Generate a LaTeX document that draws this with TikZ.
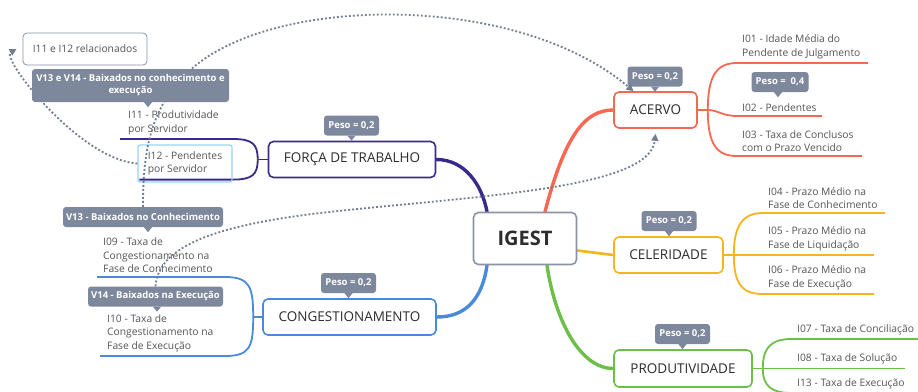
\documentclass[tikz,border=0pt]{standalone}
\usepackage{fontspec}
\setmainfont{Open Sans}
\usetikzlibrary{arrows.meta,backgrounds}

\definecolor{igestgray}{RGB}{138,148,166}
\definecolor{acervored}{RGB}{245,104,82}
\definecolor{celerorange}{RGB}{246,180,30}
\definecolor{prodgreen}{RGB}{108,192,74}
\definecolor{forcapurple}{RGB}{58,42,140}
\definecolor{congblue}{RGB}{74,138,218}
\definecolor{calloutgray}{RGB}{126,136,156}
\definecolor{relgray}{RGB}{115,125,146}
\definecolor{textdark}{RGB}{45,45,45}
\definecolor{leafgray}{RGB}{85,85,85}
\definecolor{selblue}{RGB}{150,212,245}

\tikzset{
  topic/.style={draw, line width=1.6pt, rounded corners=5pt, fill=white, text=textdark,
    font=\fontsize{13.5}{15}\selectfont, inner sep=0pt},
  peso/.style={fill=calloutgray, rounded corners=3pt, text=white,
    font=\fontsize{9.5}{12}\selectfont\bfseries, minimum width=55pt, minimum height=20pt, inner sep=0pt},
  leaf/.style={anchor=south west, align=left, inner xsep=5pt, inner ysep=4pt, text=leafgray,
    font=\fontsize{10.3}{13.5}\selectfont},
  branch/.style={line width=3.4pt, line cap=round},
  twig/.style={line width=1.8pt},
  rel/.style={relgray, line width=1.8pt, dash pattern=on 1.9pt off 2.1pt},
  relbox/.style={draw=igestgray, line width=0.8pt, rounded corners=4pt, text=leafgray,
    font=\fontsize{10.3}{12}\selectfont, minimum width=124pt, minimum height=32pt},
}

\begin{document}
\begin{tikzpicture}[x=1pt,y=-1pt]
\useasboundingbox (0,0) rectangle (918,391);

% main topics
\node[topic, draw=igestgray, minimum width=103pt, minimum height=52pt,
  font=\fontsize{20}{24}\selectfont\bfseries] (igest) at (525,238.5){IGEST};
\node[topic, draw=acervored, minimum width=83pt, minimum height=36pt] (acervo) at (655.5,110){ACERVO};
\node[topic, draw=celerorange, minimum width=109pt, minimum height=36pt] (celer) at (668.5,255){CELERIDADE};
\node[topic, draw=prodgreen, minimum width=138pt, minimum height=37pt] (prod) at (683,368.5){PRODUTIVIDADE};
\node[topic, draw=forcapurple, minimum width=167pt, minimum height=36pt] (forca) at (352,159.5){FORÇA DE TRABALHO};
\node[topic, draw=congblue, minimum width=173pt, minimum height=36pt] (cong) at (349.5,317){CONGESTIONAMENTO};

% weights
\node[peso] (pacervo) at (655,76.5){Peso = 0,2};
\node[peso, minimum width=57pt] (ppend) at (780,82){Peso = \ 0,4};
\node[peso] (pceler) at (669,221){Peso = 0,2};
\node[peso] (pprod) at (682.5,334){Peso = 0,2};
\node[peso] (pforca) at (351.5,125.5){Peso = 0,2};
\node[peso] (pcong) at (348.5,283){Peso = 0,2};

% junctions
\coordinate (ja) at ([xshift=10pt]acervo.east);
\coordinate (jc) at ([xshift=10pt]celer.east);
\coordinate (jp) at ([xshift=10pt]prod.east);
\coordinate (jf) at ([xshift=-10pt]forca.west);
\coordinate (jg) at ([xshift=-9pt]cong.west);

% indicators
\node[leaf] (i01) at (737,63){I01 - Idade Média do\\Pendente de Julgamento};
\node[leaf] (i02) at (737,116){I02 - Pendentes};
\node[leaf] (i03) at (737,156){I03 - Taxa de Conclusos\\com o Prazo Vencido};
\node[leaf] (i04) at (763,213){I04 - Prazo Médio na\\Fase de Conhecimento};
\node[leaf] (i05) at (763,255){I05 - Prazo Médio na\\Fase de Liquidação};
\node[leaf] (i06) at (763,294){I06 - Prazo Médio na\\Fase de Execução};
\node[leaf] (i07) at (792,339){I07 - Taxa de Conciliação};
\node[leaf] (i08) at (792,368.5){I08 - Taxa de Solução};
\node[leaf] (i13) at (792,393){I13 - Taxa de Execução};
\node[leaf, inner xsep=8pt] (i11) at (120,139){I11 - Produtividade\\por Servidor};
\node[draw=selblue, line width=1.2pt, rounded corners=2pt, align=left, text=leafgray,
  font=\fontsize{10.3}{13.5}\selectfont, minimum width=94pt, minimum height=37pt] (i12) at (185,163.5){I12 - Pendentes\\por Servidor};
\node[leaf, inner xsep=6pt] (i09) at (97,277){I09 - Taxa de\\Congestionamento na\\Fase de Conhecimento};
\node[leaf, inner xsep=7pt] (i10) at (100,356){I10 - Taxa de\\Congestionamento na\\Fase de Execução};

% notes
\node[peso, minimum width=160pt] (vcon) at (143,217){V13 - Baixados no Conhecimento};
\node[peso, minimum width=135pt] (vexe) at (155.5,296.5){V14 - Baixados na Execução};
\node[relbox] (relac) at (85,49){I11 e I12 relacionados};

\begin{scope}[on background layer]
\fill[white] (0,0) rectangle (918,391);
% branches
\draw[branch, acervored] ([xshift=20pt]igest.north) .. controls (565,135) and (585,110) .. (acervo.west);
\draw[branch, forcapurple] ([xshift=-38pt]igest.north) .. controls (482,185) and (465,159.5) .. (forca.east);
\draw[branch, celerorange, line width=2.6pt] ([yshift=-12pt]igest.east) .. controls (595,252) .. (celer.west);
\draw[branch, congblue] ([xshift=-38pt]igest.south) .. controls (482,300) and (465,317) .. (cong.east);
\draw[branch, prodgreen] ([xshift=22pt]igest.south) .. controls (555,320) and (580,368.5) .. (prod.west);
% twigs
\draw[twig, acervored] (acervo.east) -- (ja);
\draw[twig, acervored] (ja) .. controls +(0,-35) and +(-20,0) .. (i01.south west) -- ++(131,0);
\draw[twig, acervored] (ja) .. controls +(10,0) and +(-15,0) .. (i02.south west) -- ++(85,0);
\draw[twig, acervored] (ja) .. controls +(0,35) and +(-20,0) .. (i03.south west) -- ++(125,0);
\draw[twig, celerorange] (celer.east) -- (jc);
\draw[twig, celerorange] (jc) .. controls +(0,-30) and +(-20,0) .. (i04.south west) -- ++(122,0);
\draw[twig, celerorange] (jc) -- (i05.south west) -- ++(111,0);
\draw[twig, celerorange] (jc) .. controls +(0,30) and +(-20,0) .. (i06.south west) -- ++(111,0);
\draw[twig, prodgreen] (prod.east) -- (jp);
\draw[twig, prodgreen] (jp) .. controls +(0,-22) and +(-20,0) .. (i07.south west) -- ++(126,0);
\draw[twig, prodgreen] (jp) -- (i08.south west) -- ++(113,0);
\draw[twig, prodgreen] (jp) .. controls +(0,18) and +(-20,0) .. (i13.south west) -- ++(126,0);
\draw[twig, forcapurple] (forca.west) -- (jf);
\draw[twig, forcapurple] (jf) .. controls +(0,-15) and +(20,0) .. ([xshift=113pt]i11.south west) -- (i11.south west);
\draw[twig, forcapurple] (jf) .. controls +(0,15) and +(20,0) .. ([yshift=3pt]i12.south east) -- ([xshift=2pt,yshift=3pt]i12.south west);
\draw[twig, congblue] (cong.west) -- (jg);
\draw[twig, congblue] (jg) .. controls +(0,-30) and +(25,0) .. ([xshift=128pt]i09.south west) -- (i09.south west);
\draw[twig, congblue] (jg) .. controls +(0,30) and +(25,0) .. ([xshift=125pt]i10.south west) -- (i10.south west);
\end{scope}

% relationships
\draw[rel, -{Triangle[length=7pt,width=7pt]}] (vcon.north) .. controls (143,150) and (150,100) .. (200,62)
  .. controls (290,-5) and (520,-5) .. ([xshift=-22pt]acervo.north);
\draw[rel, -{Triangle[length=7pt,width=7pt]}] (vexe.north) .. controls (158,245) and (220,225) .. (320,213)
  .. controls (470,196) and (650,190) .. ([yshift=-5pt]acervo.south);
\draw[rel, -{Triangle[length=7pt,width=7pt]}] (i12.west) .. controls (80,160) and (0,58) .. ([xshift=-6pt]relac.west);

\node[peso, minimum width=197pt, minimum height=33pt, align=center] (vboth) at (130.5,85.5){V13 e V14 - Baixados no conhecimento e\\execução};

% pointers of the callouts
\foreach \p/\dx in {pacervo/0,ppend/-2,pceler/0,pprod/0,pforca/0,pcong/0,vcon/5,vexe/1.5,vboth/17.5}
  \fill[calloutgray] ([xshift=\dx pt-4pt]\p.south) -- ([xshift=\dx pt+4pt]\p.south) -- ([xshift=\dx pt,yshift=-5pt]\p.south) -- cycle;
\end{tikzpicture}
\end{document}
